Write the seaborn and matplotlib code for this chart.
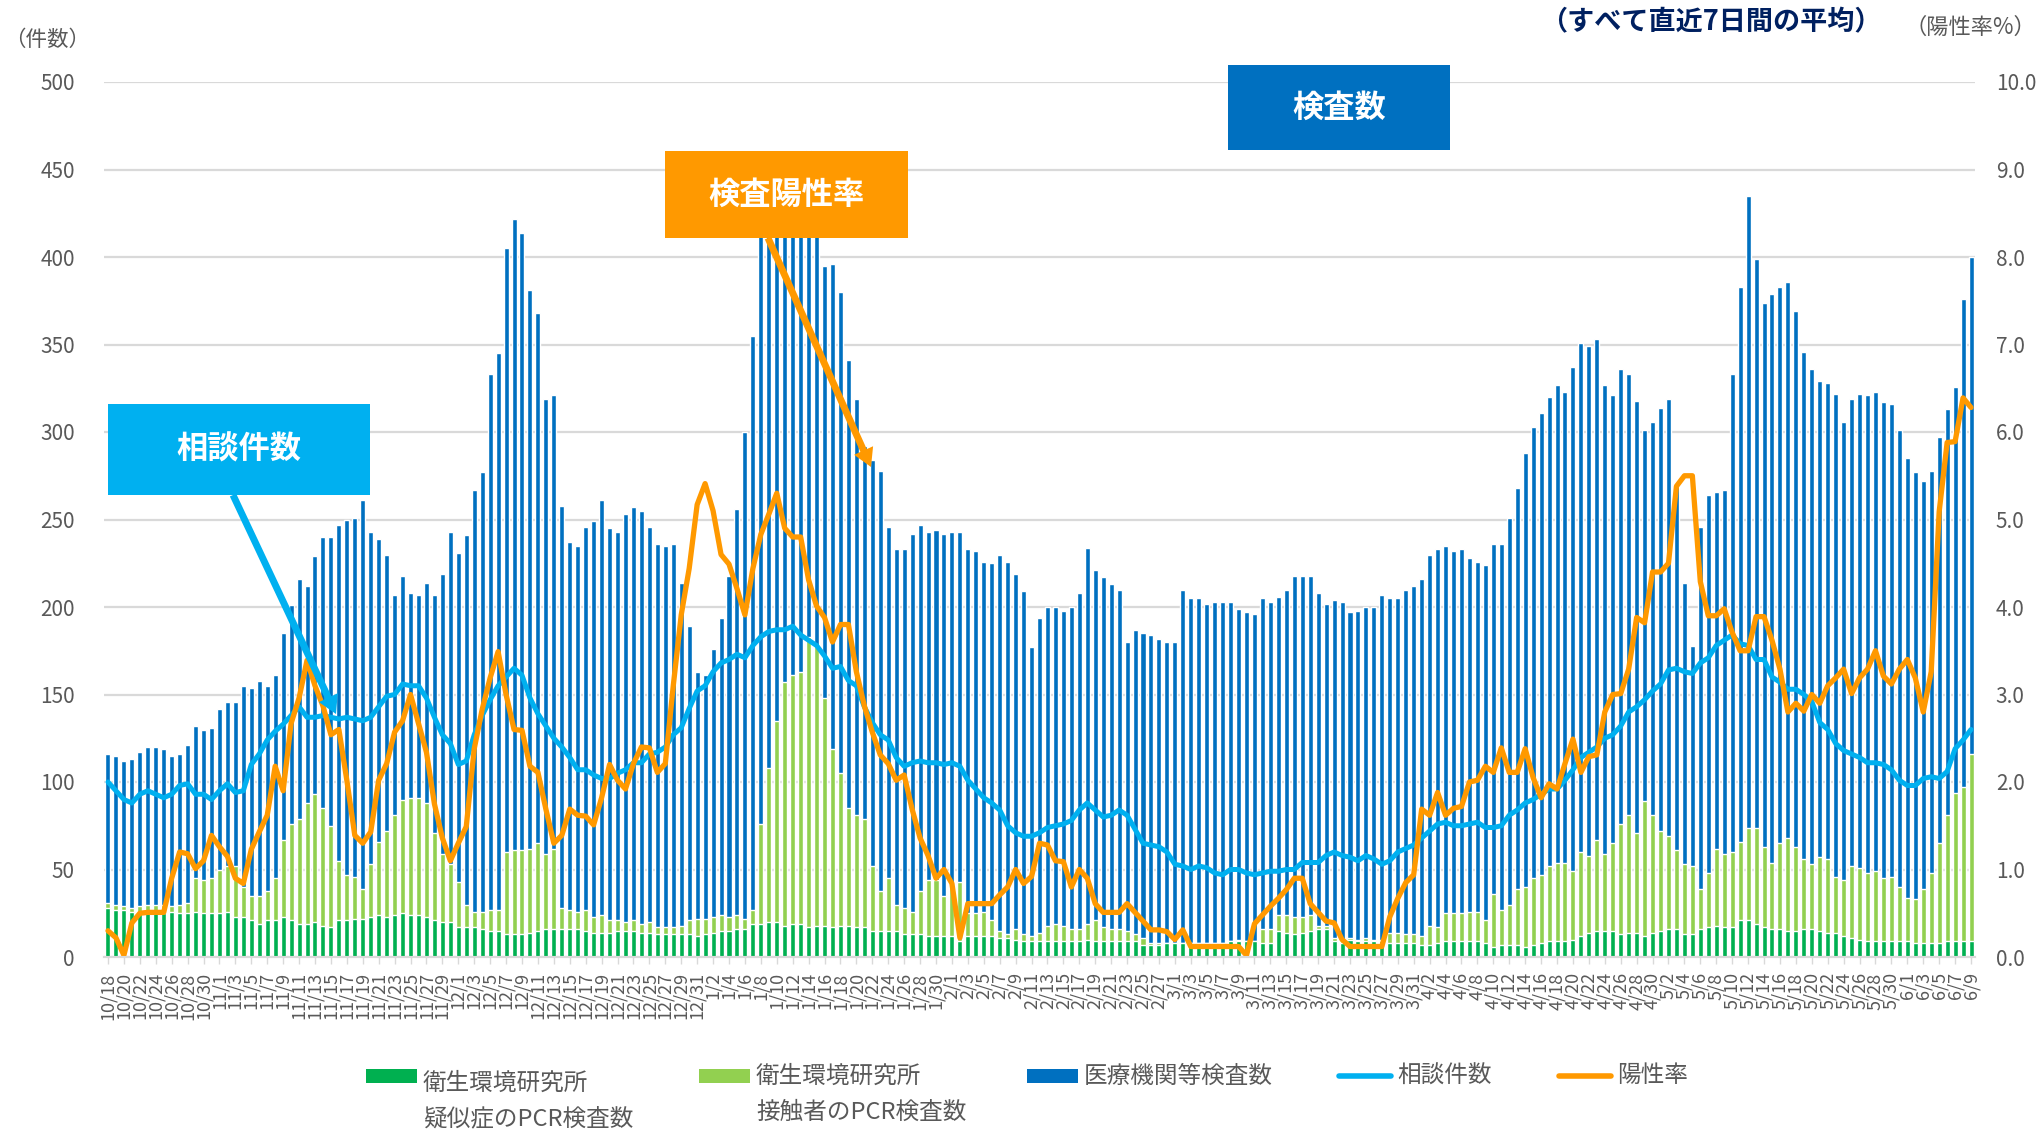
import datetime as dt

import numpy as np
import pandas as pd
import seaborn as sns
from matplotlib import pyplot as plt
from matplotlib.patches import Rectangle, FancyArrowPatch
from matplotlib.lines import Line2D

# daily values, 10/18 .. 6/9 (7-day averages)
tests_total = [
    116, 115, 112, 113, 117, 120, 120, 119, 115, 116, 121, 132, 130, 131, 142, 146, 146, 155, 154, 158,
    155, 161, 185, 201, 216, 212, 229, 240, 240, 247, 250, 251, 261, 243, 239, 230, 207, 218, 208, 207,
    214, 207, 219, 243, 231, 241, 267, 277, 333, 345, 405, 422, 414, 381, 368, 319, 321, 258, 237, 235,
    246, 249, 261, 245, 243, 253, 257, 255, 246, 236, 235, 236, 214, 189, 163, 161, 176, 194, 218, 256,
    300, 355, 420, 440, 450, 445, 440, 450, 461, 430, 395, 396, 380, 341, 319, 292, 284, 278, 246, 233,
    233, 242, 247, 243, 244, 242, 243, 243, 233, 232, 226, 225, 230, 226, 219, 209, 177, 194, 200, 200,
    198, 200, 208, 234, 221, 217, 213, 210, 180, 187, 185, 184, 182, 180, 180, 210, 205, 205, 202, 203,
    203, 203, 199, 197, 196, 205, 203, 206, 210, 218, 218, 218, 208, 202, 204, 203, 197, 198, 200, 200,
    207, 205, 205, 210, 212, 216, 230, 233, 235, 232, 233, 228, 226, 224, 236, 236, 251, 268, 288, 303,
    311, 320, 327, 323, 337, 351, 349, 353, 327, 321, 336, 333, 318, 301, 306, 314, 319, 269, 214, 178,
    246, 264, 266, 267, 333, 383, 435, 399, 374, 379, 383, 386, 369, 346, 336, 329, 328, 322, 306, 319,
    322, 321, 323, 317, 316, 301, 285, 277, 272, 278, 297, 313, 326, 376, 400,
]

# 衛生環境研究所 total (疑似症 + 接触者)
eiken_total = [
    31, 30, 29, 28, 29, 30, 30, 30, 29, 30, 31, 45, 44, 45, 50, 52, 52, 40, 35, 35,
    38, 45, 67, 76, 79, 88, 93, 85, 75, 55, 47, 46, 39, 53, 66, 72, 81, 90, 91, 91,
    88, 71, 59, 53, 43, 30, 26, 26, 27, 27, 60, 61, 61, 62, 65, 59, 62, 28, 27, 26,
    27, 23, 24, 21, 21, 20, 21, 19, 20, 17, 17, 17, 18, 21, 22, 22, 23, 24, 23, 24,
    22, 27, 76, 108, 135, 157, 161, 163, 183, 178, 148, 119, 105, 85, 81, 79, 52, 38, 45, 30,
    28, 26, 38, 44, 44, 35, 42, 43, 25, 25, 26, 21, 15, 13, 16, 13, 12, 14, 18, 19,
    18, 16, 16, 19, 21, 17, 16, 16, 15, 13, 11, 8, 8, 8, 8, 8, 8, 8, 8, 8,
    8, 9, 10, 9, 9, 16, 16, 24, 24, 23, 23, 24, 18, 18, 11, 9, 11, 10, 11, 10,
    10, 14, 14, 13, 13, 12, 18, 17, 25, 25, 25, 26, 26, 21, 36, 27, 30, 39, 40, 45,
    47, 52, 54, 54, 49, 60, 58, 67, 59, 65, 76, 81, 71, 89, 81, 72, 69, 61, 53, 52,
    39, 48, 62, 59, 60, 66, 74, 74, 63, 54, 65, 68, 63, 56, 53, 57, 56, 46, 44, 52,
    51, 48, 49, 45, 46, 40, 34, 33, 39, 48, 65, 81, 94, 97, 116,
]

# 衛生環境研究所 疑似症のPCR検査数
eiken_suspect = [
    28, 27, 27, 26, 26, 26, 26, 25, 26, 25, 25, 26, 25, 25, 25, 26, 23, 23, 21, 19,
    21, 21, 23, 21, 19, 19, 20, 18, 17, 21, 21, 22, 22, 23, 24, 23, 24, 25, 24, 24,
    23, 21, 20, 20, 17, 17, 17, 16, 15, 15, 13, 13, 13, 14, 15, 16, 16, 16, 16, 16,
    15, 14, 14, 14, 15, 15, 15, 14, 14, 13, 13, 13, 13, 13, 12, 13, 14, 15, 15, 16,
    16, 19, 19, 20, 20, 18, 19, 19, 17, 18, 18, 17, 18, 18, 17, 17, 15, 15, 15, 15,
    13, 13, 13, 12, 12, 12, 12, 9, 12, 12, 12, 12, 11, 11, 10, 9, 9, 9, 9, 9,
    9, 9, 9, 10, 9, 9, 9, 9, 9, 9, 7, 7, 7, 8, 8, 8, 8, 8, 8, 8,
    8, 9, 9, 9, 9, 8, 8, 15, 14, 13, 14, 15, 16, 16, 9, 8, 10, 9, 9, 9,
    9, 8, 8, 8, 8, 7, 7, 8, 9, 9, 9, 9, 9, 8, 6, 7, 7, 7, 6, 7,
    8, 9, 9, 9, 10, 12, 14, 15, 15, 15, 13, 14, 14, 12, 14, 15, 16, 16, 13, 13,
    16, 17, 18, 17, 17, 21, 21, 19, 17, 16, 16, 15, 15, 16, 16, 15, 14, 14, 12, 11,
    10, 9, 9, 9, 9, 9, 9, 8, 8, 8, 8, 9, 9, 9, 9,
]

consult = [
    100, 95, 90, 88, 93, 95, 93, 91, 93, 98, 99, 93, 93, 90, 95, 99, 94, 95, 110, 116,
    124, 129, 133, 138, 143, 137, 137, 138, 137, 136, 137, 136, 135, 137, 143, 149, 150, 156, 155, 155,
    148, 137, 127, 122, 110, 112, 127, 138, 147, 155, 160, 165, 161, 148, 139, 132, 125, 120, 114, 107,
    107, 104, 102, 102, 105, 107, 111, 111, 116, 117, 120, 127, 131, 142, 152, 155, 163, 168, 170, 173,
    171, 178, 183, 186, 187, 187, 189, 184, 181, 178, 172, 165, 166, 158, 155, 143, 134, 127, 124, 114,
    109, 111, 112, 111, 111, 110, 111, 109, 101, 96, 91, 88, 84, 75, 71, 69, 69, 71, 74, 75,
    76, 78, 84, 88, 84, 80, 81, 84, 81, 73, 65, 64, 63, 60, 53, 52, 50, 52, 51, 48,
    47, 50, 50, 48, 47, 48, 49, 49, 50, 50, 54, 54, 54, 58, 60, 58, 57, 55, 58, 56,
    53, 55, 60, 62, 64, 68, 72, 76, 77, 75, 75, 76, 77, 74, 74, 75, 81, 84, 88, 90,
    93, 96, 96, 101, 107, 114, 117, 120, 125, 127, 132, 140, 143, 147, 152, 156, 164, 165, 163, 162,
    168, 171, 178, 181, 184, 179, 178, 170, 170, 160, 157, 153, 153, 150, 146, 134, 130, 122, 118, 116,
    114, 111, 111, 110, 107, 101, 98, 98, 102, 103, 102, 106, 119, 124, 130,
]

positivity = [
    0.30, 0.22, 0.02, 0.39, 0.50, 0.51, 0.51, 0.51, 0.90, 1.20, 1.18, 1.01, 1.10, 1.39, 1.26, 1.15, 0.90, 0.84, 1.23, 1.43,
    1.62, 2.18, 1.90, 2.67, 2.96, 3.39, 3.10, 2.87, 2.54, 2.60, 2.02, 1.39, 1.30, 1.43, 2.02, 2.21, 2.57, 2.70, 3.00, 2.67,
    2.34, 1.75, 1.36, 1.10, 1.30, 1.49, 2.38, 2.83, 3.19, 3.49, 3.00, 2.60, 2.59, 2.18, 2.11, 1.69, 1.30, 1.39, 1.69, 1.62,
    1.61, 1.51, 1.82, 2.20, 2.02, 1.92, 2.21, 2.40, 2.39, 2.11, 2.21, 3.10, 3.91, 4.44, 5.17, 5.41, 5.10, 4.60, 4.49, 4.21,
    3.91, 4.44, 4.83, 5.06, 5.30, 4.90, 4.80, 4.80, 4.31, 4.01, 3.88, 3.60, 3.80, 3.80, 3.26, 2.87, 2.57, 2.31, 2.21, 2.02,
    2.08, 1.69, 1.36, 1.16, 0.90, 1.00, 0.84, 0.22, 0.61, 0.61, 0.61, 0.61, 0.71, 0.80, 1.00, 0.84, 0.92, 1.30, 1.28, 1.10,
    1.09, 0.80, 1.00, 0.90, 0.61, 0.51, 0.51, 0.51, 0.61, 0.51, 0.41, 0.31, 0.31, 0.29, 0.20, 0.31, 0.12, 0.12, 0.12, 0.12,
    0.12, 0.12, 0.12, 0.02, 0.38, 0.48, 0.58, 0.67, 0.77, 0.90, 0.90, 0.61, 0.51, 0.41, 0.39, 0.20, 0.12, 0.12, 0.12, 0.12,
    0.12, 0.46, 0.67, 0.85, 0.94, 1.69, 1.62, 1.88, 1.62, 1.70, 1.72, 2.00, 2.02, 2.18, 2.11, 2.39, 2.11, 2.11, 2.38, 2.05,
    1.82, 1.98, 1.92, 2.21, 2.49, 2.11, 2.29, 2.31, 2.80, 3.00, 3.01, 3.29, 3.88, 3.82, 4.40, 4.40, 4.50, 5.38, 5.50, 5.50,
    4.29, 3.90, 3.90, 3.98, 3.71, 3.50, 3.50, 3.89, 3.89, 3.62, 3.29, 2.80, 2.90, 2.81, 3.00, 2.90, 3.10, 3.19, 3.29, 3.01,
    3.19, 3.29, 3.50, 3.21, 3.12, 3.29, 3.40, 3.19, 2.80, 3.26, 5.09, 5.88, 5.89, 6.39, 6.28,
]

start = dt.date(2020, 10, 18)
dates = [start + dt.timedelta(days=i) for i in range(len(tests_total))]
date_labels = [f"{d.month}/{d.day}" for d in dates]

legend_labels = ["衛生環境研究所\n疑似症のPCR検査数", "衛生環境研究所\n接触者のPCR検査数",
                 "医療機関等検査数", "相談件数", "陽性率"]

DKGREEN, LTGREEN, BLUE = "#00B050", "#92D050", "#0070C0"
CYAN, ORANGE, GRAY = "#00B0F0", "#FF9900", "#595959"
GRID = "#D9D9D9"

df = pd.DataFrame({
    "day": np.arange(len(dates)),
    "tests_total": tests_total,
    "eiken_total": eiken_total,
    "eiken_suspect": eiken_suspect,
    "consult": consult,
    "positivity": positivity,
})

sns.set_theme(style="white")
plt.rcParams["font.family"] = ["Noto Sans CJK JP", "DejaVu Sans"]

W, H = 2042, 1131
fig = plt.figure(figsize=(W / 100, H / 100), dpi=100)
ax = fig.add_axes([104 / W, 174 / H, 1871 / W, 875 / H])


def fx(x, y):
    # pixel (from top-left) -> figure fraction
    return x / W, 1 - y / H


# stacked bars drawn as overlapping cumulative levels
for col, c in [("tests_total", BLUE), ("eiken_total", LTGREEN), ("eiken_suspect", DKGREEN)]:
    sns.barplot(data=df, x="day", y=col, color=c, saturation=1, width=0.63,
                errorbar=None, ax=ax)

sns.lineplot(data=df, x="day", y="consult", color=CYAN, linewidth=3.6, ax=ax,
             solid_joinstyle="round")

ax2 = ax.twinx()
sns.lineplot(data=df, x="day", y="positivity", color=ORANGE, linewidth=3.8, ax=ax2,
             solid_joinstyle="round")

ax.set_xlim(-0.5, len(dates) - 0.5)
ax.set_ylim(0, 500)
ax2.set_ylim(0, 10)
ax.set_yticks(np.arange(0, 501, 50))
ax2.set_yticks(np.arange(0, 11, 1))
ax2.set_yticklabels([f"{v:.1f}" for v in np.arange(0, 11, 1)])

ticks = list(range(0, len(dates), 2))
ax.set_xticks(ticks)
ax.set_xticklabels([date_labels[i] for i in ticks], rotation=90)

ax.set_xlabel("")
ax.set_ylabel("")
ax2.set_ylabel("")
ax.set_axisbelow(True)
ax.yaxis.grid(True, color=GRID, linewidth=1.6)
ax.xaxis.grid(False)
ax2.grid(False)

for a in (ax, ax2):
    for s in ("top", "left", "right"):
        a.spines[s].set_visible(False)
    a.spines["bottom"].set_color(GRID)
    a.spines["bottom"].set_linewidth(1.5)

ax.tick_params(axis="y", length=0, pad=21, labelsize=15, labelcolor=GRAY)
ax2.tick_params(axis="y", length=0, pad=15, labelsize=15, labelcolor=GRAY)
ax.tick_params(axis="x", length=5, width=1, color=GRID, pad=6, labelsize=13,
               labelcolor=GRAY, bottom=True)

# axis captions
fig.text(*fx(4, 40), "（件数）", fontsize=15.5, color=GRAY, va="center", ha="left")
fig.text(*fx(1904, 27), "（陽性率%）", fontsize=16, color=GRAY, va="center", ha="left")
fig.text(*fx(1540, 22), "（すべて直近7日間の平均）", fontsize=19.5, color="#002060",
         fontweight="bold", va="center", ha="left")

# callout boxes
boxes = [
    ((108, 404, 370, 495), CYAN, "相談件数"),
    ((665, 151, 908, 238), ORANGE, "検査陽性率"),
    ((1228, 65, 1450, 150), BLUE, "検査数"),
]
for (x0, y0, x1, y1), c, txt in boxes:
    fig.add_artist(Rectangle(fx(x0, y1), (x1 - x0) / W, (y1 - y0) / H,
                             transform=fig.transFigure, facecolor=c, edgecolor="none",
                             zorder=5))
    fig.text(*fx((x0 + x1) / 2, (y0 + y1) / 2), txt, fontsize=22.5, fontweight="bold",
             color="white", ha="center", va="center", zorder=6)

arrows = [((233, 495), (336, 714), CYAN), ((768, 238), (871, 467), ORANGE)]
for p0, p1, c in arrows:
    fig.add_artist(FancyArrowPatch(fx(*p0), fx(*p1), transform=fig.transFigure,
                                   arrowstyle="simple,tail_width=5,head_width=15,head_length=13",
                                   mutation_scale=1, shrinkA=0, shrinkB=0,
                                   facecolor=c, edgecolor="none", zorder=5))

# legend, laid out by hand
patch_items = [(366, 1083, 0, DKGREEN), (699, 1076, 1, LTGREEN), (1027, 1076, 2, BLUE)]
for x, ty, i, c in patch_items:
    fig.add_artist(Rectangle(fx(x, 1083), 51 / W, 14 / H, transform=fig.transFigure,
                             facecolor=c, edgecolor="none"))
    lines = legend_labels[i].split("\n")
    fig.text(*fx(x + 57, ty), lines[0], fontsize=17, color=GRAY, va="center", ha="left")
    if len(lines) > 1:
        fig.text(*fx(x + 57, ty + 36), lines[1], fontsize=17, color=GRAY,
                 va="center", ha="left")

line_items = [(1339, 3, CYAN), (1559, 4, ORANGE)]
for x, i, c in line_items:
    (x0, y0), (x1, _) = fx(x, 1076), fx(x + 52, 1076)
    fig.add_artist(Line2D([x0, x1], [y0, y0], transform=fig.transFigure, color=c,
                          linewidth=4, solid_capstyle="round"))
    fig.text(*fx(x + 58, 1076), legend_labels[i], fontsize=17, color=GRAY,
             va="center", ha="left")

fig.savefig("out.png", dpi=100)
